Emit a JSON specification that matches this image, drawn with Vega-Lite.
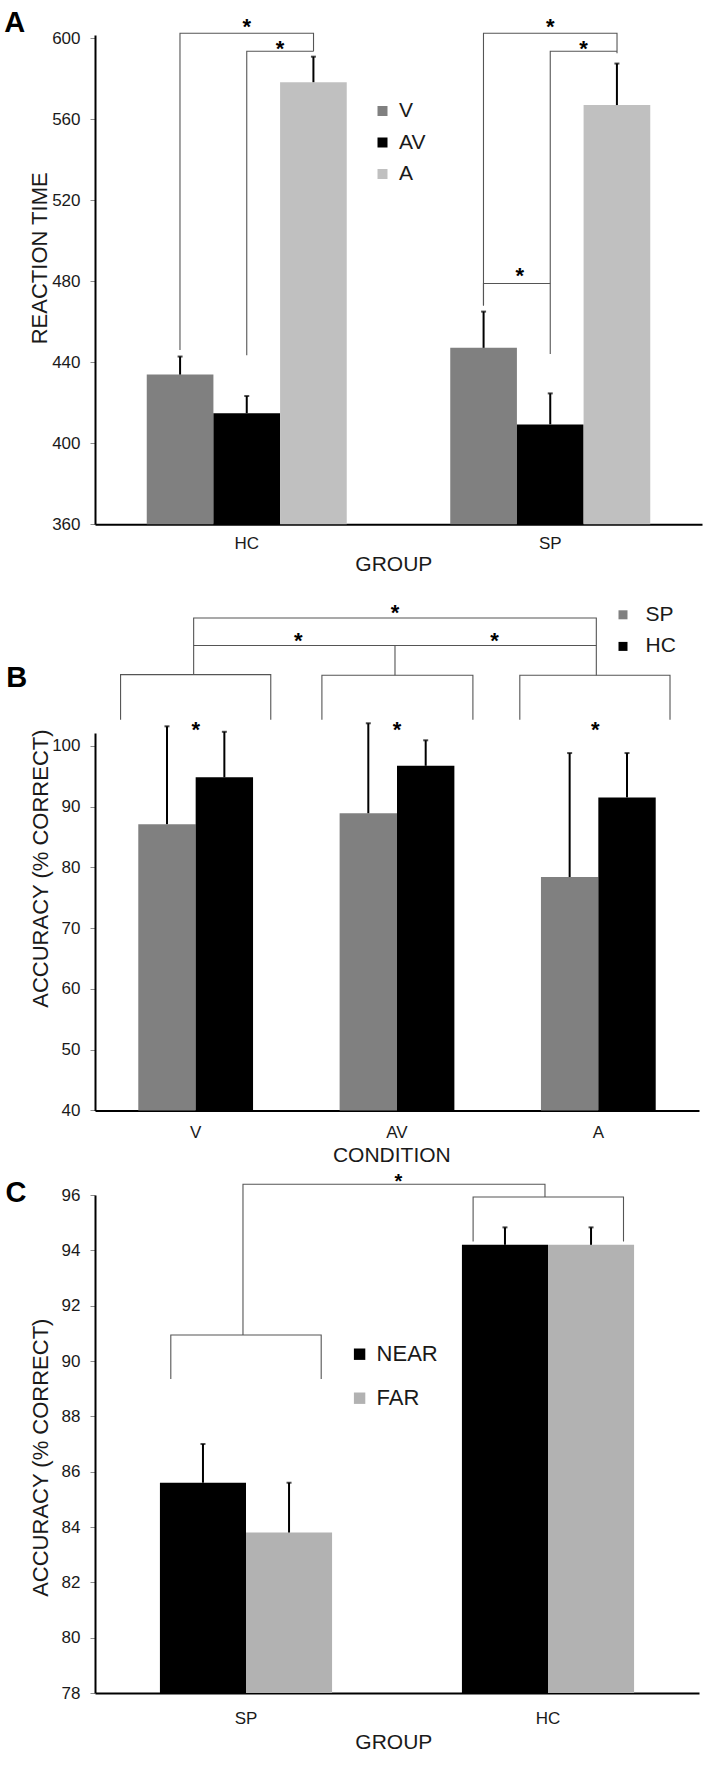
{
  "$schema": "https://vega.github.io/schema/vega-lite/v6.json",
  "padding": {"left": 4, "top": 8, "right": 2, "bottom": 4},
  "bounds": "flush",
  "spacing": 84,
  "datasets": {
    "rt": [
      {"group": "HC", "condition": "V", "rt": 433.9, "upper": 442.8},
      {"group": "HC", "condition": "AV", "rt": 414.8, "upper": 423.3},
      {"group": "HC", "condition": "A", "rt": 578.3, "upper": 590.9},
      {"group": "SP", "condition": "V", "rt": 447.1, "upper": 465.0},
      {"group": "SP", "condition": "AV", "rt": 409.3, "upper": 424.6},
      {"group": "SP", "condition": "A", "rt": 567.0, "upper": 587.5}
    ],
    "rtBrackets": [
      {"id": "HC V-A", "ord": 1, "pos": -0.22, "rt": 446},
      {"id": "HC V-A", "ord": 2, "pos": -0.22, "rt": 602.5},
      {"id": "HC V-A", "ord": 3, "pos": 0.22, "rt": 602.5},
      {"id": "HC V-A", "ord": 4, "pos": 0.22, "rt": 593.6},
      {"id": "HC AV-A", "ord": 1, "pos": 0, "rt": 443.5},
      {"id": "HC AV-A", "ord": 2, "pos": 0, "rt": 593.6},
      {"id": "HC AV-A", "ord": 3, "pos": 0.22, "rt": 593.6},
      {"id": "SP V-A", "ord": 1, "pos": 0.78, "rt": 468},
      {"id": "SP V-A", "ord": 2, "pos": 0.78, "rt": 602.5},
      {"id": "SP V-A", "ord": 3, "pos": 1.22, "rt": 602.5},
      {"id": "SP V-A", "ord": 4, "pos": 1.22, "rt": 592.6},
      {"id": "SP AV-A", "ord": 1, "pos": 1.0, "rt": 444.1},
      {"id": "SP AV-A", "ord": 2, "pos": 1.0, "rt": 593.6},
      {"id": "SP AV-A", "ord": 3, "pos": 1.22, "rt": 593.6},
      {"id": "SP V-AV", "ord": 1, "pos": 0.78, "rt": 468},
      {"id": "SP V-AV", "ord": 2, "pos": 0.78, "rt": 478.9},
      {"id": "SP V-AV", "ord": 3, "pos": 1.0, "rt": 478.9}
    ],
    "rtStars": [
      {"label": "*", "pos": 0.0, "rt": 608},
      {"label": "*", "pos": 0.11, "rt": 597.4},
      {"label": "*", "pos": 1.0, "rt": 608},
      {"label": "*", "pos": 1.11, "rt": 597.4},
      {"label": "*", "pos": 0.9, "rt": 485.1}
    ],
    "acc": [
      {"condition": "V", "group": "SP", "acc": 87.1, "upper": 103.2},
      {"condition": "V", "group": "HC", "acc": 94.8, "upper": 102.3},
      {"condition": "AV", "group": "SP", "acc": 88.9, "upper": 103.7},
      {"condition": "AV", "group": "HC", "acc": 96.7, "upper": 100.9},
      {"condition": "A", "group": "SP", "acc": 78.4, "upper": 98.8},
      {"condition": "A", "group": "HC", "acc": 91.5, "upper": 98.8}
    ],
    "accBrackets": [
      {"id": "V SP-HC", "ord": 1, "pos": -0.373, "acc": 104.3},
      {"id": "V SP-HC", "ord": 2, "pos": -0.373, "acc": 111.7},
      {"id": "V SP-HC", "ord": 3, "pos": 0.373, "acc": 111.7},
      {"id": "V SP-HC", "ord": 4, "pos": 0.373, "acc": 104.3},
      {"id": "AV SP-HC", "ord": 1, "pos": 0.627, "acc": 104.3},
      {"id": "AV SP-HC", "ord": 2, "pos": 0.627, "acc": 111.6},
      {"id": "AV SP-HC", "ord": 3, "pos": 1.377, "acc": 111.6},
      {"id": "AV SP-HC", "ord": 4, "pos": 1.377, "acc": 104.3},
      {"id": "A SP-HC", "ord": 1, "pos": 1.61, "acc": 104.3},
      {"id": "A SP-HC", "ord": 2, "pos": 1.61, "acc": 111.6},
      {"id": "A SP-HC", "ord": 3, "pos": 2.356, "acc": 111.6},
      {"id": "A SP-HC", "ord": 4, "pos": 2.356, "acc": 104.3},
      {"id": "V-A", "ord": 1, "pos": -0.01, "acc": 111.7},
      {"id": "V-A", "ord": 2, "pos": -0.01, "acc": 121.0},
      {"id": "V-A", "ord": 3, "pos": 1.99, "acc": 121.0},
      {"id": "V-A", "ord": 4, "pos": 1.99, "acc": 111.6},
      {"id": "V-AV", "ord": 1, "pos": -0.01, "acc": 116.5},
      {"id": "V-AV", "ord": 2, "pos": 0.99, "acc": 116.5},
      {"id": "V-AV", "ord": 3, "pos": 0.99, "acc": 111.6},
      {"id": "AV-A", "ord": 1, "pos": 0.99, "acc": 116.5},
      {"id": "AV-A", "ord": 2, "pos": 1.99, "acc": 116.5}
    ],
    "accStars": [
      {"label": "*", "pos": 0.99, "acc": 122.7},
      {"label": "*", "pos": 0.51, "acc": 118.0},
      {"label": "*", "pos": 1.485, "acc": 118.0},
      {"label": "*", "pos": 0.0, "acc": 103.4},
      {"label": "*", "pos": 1.0, "acc": 103.5},
      {"label": "*", "pos": 1.985, "acc": 103.5}
    ],
    "dist": [
      {"group": "SP", "distance": "NEAR", "acc": 85.6, "upper": 87.0},
      {"group": "SP", "distance": "FAR", "acc": 83.8, "upper": 85.6},
      {"group": "HC", "distance": "NEAR", "acc": 94.2, "upper": 94.83},
      {"group": "HC", "distance": "FAR", "acc": 94.2, "upper": 94.83}
    ],
    "distBrackets": [
      {"id": "SP NEAR-FAR", "ord": 1, "pos": -0.249, "acc": 89.35},
      {"id": "SP NEAR-FAR", "ord": 2, "pos": -0.249, "acc": 90.94},
      {"id": "SP NEAR-FAR", "ord": 3, "pos": 0.249, "acc": 90.94},
      {"id": "SP NEAR-FAR", "ord": 4, "pos": 0.249, "acc": 89.35},
      {"id": "HC NEAR-FAR", "ord": 1, "pos": 0.752, "acc": 94.32},
      {"id": "HC NEAR-FAR", "ord": 2, "pos": 0.752, "acc": 95.93},
      {"id": "HC NEAR-FAR", "ord": 3, "pos": 1.25, "acc": 95.93},
      {"id": "HC NEAR-FAR", "ord": 4, "pos": 1.25, "acc": 94.32},
      {"id": "SP-HC", "ord": 1, "pos": -0.01, "acc": 90.94},
      {"id": "SP-HC", "ord": 2, "pos": -0.01, "acc": 96.39},
      {"id": "SP-HC", "ord": 3, "pos": 0.99, "acc": 96.39},
      {"id": "SP-HC", "ord": 4, "pos": 0.99, "acc": 95.93}
    ],
    "distStars": [
      {"label": "*", "pos": 0.505, "acc": 96.64}
    ]
  },
  "vconcat": [
    {
      "width": 607,
      "height": 489.2,
      "title": {"text": "A", "dx": -90.7, "offset": -21.7},
      "layer": [
        {
          "data": {"name": "rt"},
          "layer": [
            {
              "mark": {"type": "bar", "clip": true},
              "encoding": {
                "x": {"field": "group", "type": "nominal", "sort": ["HC", "SP"], "scale": {"paddingInner": 0.341, "paddingOuter": 0.1705}, "axis": {"title": "GROUP", "labelPadding": 11, "titleX": 298.3, "titleY": 46}},
                "xOffset": {"field": "condition", "type": "nominal", "sort": ["V", "AV", "A"]},
                "y": {"field": "rt", "type": "quantitative", "scale": {"domain": [360, 601.6], "nice": false, "zero": false}, "axis": {"title": "REACTION TIME", "values": [360, 400, 440, 480, 520, 560, 600], "titleX": -56, "titleY": 222.8}},
                "color": {"field": "condition", "type": "nominal", "sort": ["V", "AV", "A"], "scale": {"domain": ["V", "AV", "A"], "range": ["#808080", "#000000", "#c0c0c0"]}, "legend": {"title": null, "legendX": 277, "legendY": 65.5, "symbolSize": 100, "rowPadding": 9.5, "labelOffset": 6}}
              }
            },
            {
              "mark": {"type": "rule", "color": "#000000", "strokeWidth": 2},
              "encoding": {
                "x": {"field": "group", "type": "nominal", "sort": ["HC", "SP"]},
                "xOffset": {"field": "condition", "type": "nominal", "sort": ["V", "AV", "A"]},
                "y": {"field": "rt", "type": "quantitative", "scale": {"domain": [360, 601.6], "nice": false, "zero": false}},
                "y2": {"field": "upper"}
              }
            },
            {
              "mark": {"type": "tick", "color": "#000000", "thickness": 2, "size": 5, "orient": "horizontal"},
              "encoding": {
                "x": {"field": "group", "type": "nominal", "sort": ["HC", "SP"]},
                "xOffset": {"field": "condition", "type": "nominal", "sort": ["V", "AV", "A"]},
                "y": {"field": "upper", "type": "quantitative", "scale": {"domain": [360, 601.6], "nice": false, "zero": false}}
              }
            }
          ]
        },
        {
          "data": {"name": "rtBrackets"},
          "mark": {"type": "line", "color": "#555555", "strokeWidth": 1.1},
          "encoding": {
            "x": {"field": "pos", "type": "quantitative", "scale": {"domain": [-0.5, 1.5], "nice": false, "zero": false}, "axis": null},
            "y": {"field": "rt", "type": "quantitative", "scale": {"domain": [360, 601.6], "nice": false, "zero": false}},
            "detail": {"field": "id", "type": "nominal"},
            "order": {"field": "ord", "type": "quantitative"}
          }
        },
        {
          "data": {"name": "rtStars"},
          "mark": {"type": "text", "fontSize": 22, "fontWeight": "bold", "dy": 12, "baseline": "alphabetic", "align": "center", "color": "#000000"},
          "encoding": {
            "x": {"field": "pos", "type": "quantitative", "scale": {"domain": [-0.5, 1.5], "nice": false, "zero": false}, "axis": null},
            "y": {"field": "rt", "type": "quantitative", "scale": {"domain": [360, 601.6], "nice": false, "zero": false}},
            "text": {"field": "label"}
          }
        }
      ],
      "resolve": {"scale": {"x": "independent"}}
    },
    {
      "width": 604,
      "height": 39.9,
      "layer": [
        {
          "data": {"name": "accBrackets"},
          "mark": {"type": "line", "color": "#555555", "strokeWidth": 1.1},
          "encoding": {
            "x": {"field": "pos", "type": "quantitative", "scale": {"domain": [-0.5, 2.5], "nice": false, "zero": false}, "axis": null},
            "y": {"field": "acc", "type": "quantitative", "scale": {"domain": [115.93, 122.49], "nice": false, "zero": false}, "axis": null},
            "detail": {"field": "id", "type": "nominal"},
            "order": {"field": "ord", "type": "quantitative"}
          }
        },
        {
          "data": {"name": "accStars"},
          "mark": {"type": "text", "fontSize": 22, "fontWeight": "bold", "dy": 12, "baseline": "alphabetic", "align": "center", "color": "#000000"},
          "encoding": {
            "x": {"field": "pos", "type": "quantitative", "scale": {"domain": [-0.5, 2.5], "nice": false, "zero": false}, "axis": null},
            "y": {"field": "acc", "type": "quantitative", "scale": {"domain": [115.93, 122.49], "nice": false, "zero": false}, "axis": null},
            "text": {"field": "label"}
          }
        }
      ]
    },
    {
      "width": 604,
      "height": 377.4,
      "title": {"text": "B", "dx": -88.7, "offset": -88.5},
      "data": {"name": "acc"},
      "layer": [
        {
          "mark": {"type": "bar", "clip": true},
          "encoding": {
            "x": {"field": "condition", "type": "nominal", "sort": ["V", "AV", "A"], "scale": {"paddingInner": 0.43, "paddingOuter": 0.215}, "axis": {"title": "CONDITION", "labelPadding": 14, "titleX": 296.3, "titleY": 50.9}},
            "xOffset": {"field": "group", "type": "nominal", "sort": ["SP", "HC"]},
            "y": {"field": "acc", "type": "quantitative", "scale": {"domain": [40, 102.1], "nice": false, "zero": false}, "axis": {"title": "ACCURACY (% CORRECT)", "values": [40, 50, 60, 70, 80, 90, 100], "titleX": -54.5, "titleY": 135.1}},
            "color": {"field": "group", "type": "nominal", "sort": ["SP", "HC"], "scale": {"domain": ["SP", "HC"], "range": ["#808080", "#000000"]}, "legend": {"title": null, "legendX": 517.5, "legendY": -128.7, "symbolSize": 81, "rowPadding": 9.6, "labelOffset": 12}}
          }
        },
        {
          "mark": {"type": "rule", "color": "#000000", "strokeWidth": 2},
          "encoding": {
            "x": {"field": "condition", "type": "nominal", "sort": ["V", "AV", "A"]},
            "xOffset": {"field": "group", "type": "nominal", "sort": ["SP", "HC"]},
            "y": {"field": "acc", "type": "quantitative", "scale": {"domain": [40, 102.1], "nice": false, "zero": false}},
            "y2": {"field": "upper"}
          }
        },
        {
          "mark": {"type": "tick", "color": "#000000", "thickness": 2, "size": 5, "orient": "horizontal"},
          "encoding": {
            "x": {"field": "condition", "type": "nominal", "sort": ["V", "AV", "A"]},
            "xOffset": {"field": "group", "type": "nominal", "sort": ["SP", "HC"]},
            "y": {"field": "upper", "type": "quantitative", "scale": {"domain": [40, 102.1], "nice": false, "zero": false}}
          }
        }
      ]
    },
    {
      "width": 604,
      "height": 498,
      "title": {"text": "C", "dx": -89.4, "offset": -35.9},
      "layer": [
        {
          "data": {"name": "dist"},
          "layer": [
            {
              "mark": {"type": "bar", "clip": true},
              "encoding": {
                "x": {"field": "group", "type": "nominal", "sort": ["SP", "HC"], "scale": {"paddingInner": 0.43, "paddingOuter": 0.215}, "axis": {"title": "GROUP", "labelPadding": 17, "titleX": 298.3, "titleY": 55.5}},
                "xOffset": {"field": "distance", "type": "nominal", "sort": ["NEAR", "FAR"]},
                "y": {"field": "acc", "type": "quantitative", "scale": {"domain": [78, 96], "nice": false, "zero": false}, "axis": {"title": "ACCURACY (% CORRECT)", "values": [78, 80, 82, 84, 86, 88, 90, 92, 94, 96], "titleX": -54.5, "titleY": 262.2}},
                "color": {"field": "distance", "type": "nominal", "sort": ["NEAR", "FAR"], "scale": {"domain": ["NEAR", "FAR"], "range": ["#000000", "#b2b2b2"]}, "legend": {"title": null, "legendX": 253.6, "legendY": 148.2, "symbolSize": 130, "rowPadding": 22, "labelOffset": 6, "labelFontSize": 22}}
              }
            },
            {
              "mark": {"type": "rule", "color": "#000000", "strokeWidth": 2},
              "encoding": {
                "x": {"field": "group", "type": "nominal", "sort": ["SP", "HC"]},
                "xOffset": {"field": "distance", "type": "nominal", "sort": ["NEAR", "FAR"]},
                "y": {"field": "acc", "type": "quantitative", "scale": {"domain": [78, 96], "nice": false, "zero": false}},
                "y2": {"field": "upper"}
              }
            },
            {
              "mark": {"type": "tick", "color": "#000000", "thickness": 2, "size": 5, "orient": "horizontal"},
              "encoding": {
                "x": {"field": "group", "type": "nominal", "sort": ["SP", "HC"]},
                "xOffset": {"field": "distance", "type": "nominal", "sort": ["NEAR", "FAR"]},
                "y": {"field": "upper", "type": "quantitative", "scale": {"domain": [78, 96], "nice": false, "zero": false}}
              }
            }
          ]
        },
        {
          "data": {"name": "distBrackets"},
          "mark": {"type": "line", "color": "#555555", "strokeWidth": 1.1},
          "encoding": {
            "x": {"field": "pos", "type": "quantitative", "scale": {"domain": [-0.5, 1.5], "nice": false, "zero": false}, "axis": null},
            "y": {"field": "acc", "type": "quantitative", "scale": {"domain": [78, 96], "nice": false, "zero": false}},
            "detail": {"field": "id", "type": "nominal"},
            "order": {"field": "ord", "type": "quantitative"}
          }
        },
        {
          "data": {"name": "distStars"},
          "mark": {"type": "text", "fontSize": 20, "fontWeight": "bold", "dy": 11, "baseline": "alphabetic", "align": "center", "color": "#000000"},
          "encoding": {
            "x": {"field": "pos", "type": "quantitative", "scale": {"domain": [-0.5, 1.5], "nice": false, "zero": false}, "axis": null},
            "y": {"field": "acc", "type": "quantitative", "scale": {"domain": [78, 96], "nice": false, "zero": false}},
            "text": {"field": "label"}
          }
        }
      ],
      "resolve": {"scale": {"x": "independent"}}
    }
  ],
  "resolve": {"scale": {"color": "independent", "x": "independent", "y": "independent", "xOffset": "independent"}, "legend": {"color": "independent"}},
  "config": {
    "font": "Liberation Sans",
    "view": {"stroke": null},
    "axis": {"grid": false, "domainColor": "#000000", "domainWidth": 2, "labelFontSize": 17, "labelColor": "#1a1a1a", "titleFontWeight": "normal", "titleColor": "#1a1a1a"},
    "axisY": {"tickColor": "#8c8c8c", "tickSize": 5, "tickWidth": 1, "labelPadding": 10, "labelFontSize": 17, "titleFontSize": 22, "titleBaseline": "middle"},
    "axisX": {"ticks": false, "labelAngle": 0, "titleFontSize": 21, "titleBaseline": "alphabetic"},
    "legend": {"orient": "none", "symbolType": "square", "labelFontSize": 21, "labelColor": "#1a1a1a", "padding": 0, "symbolStrokeWidth": 0},
    "title": {"fontSize": 29, "fontWeight": "bold", "color": "#000000", "anchor": "start", "frame": "group", "baseline": "alphabetic"}
  }
}
